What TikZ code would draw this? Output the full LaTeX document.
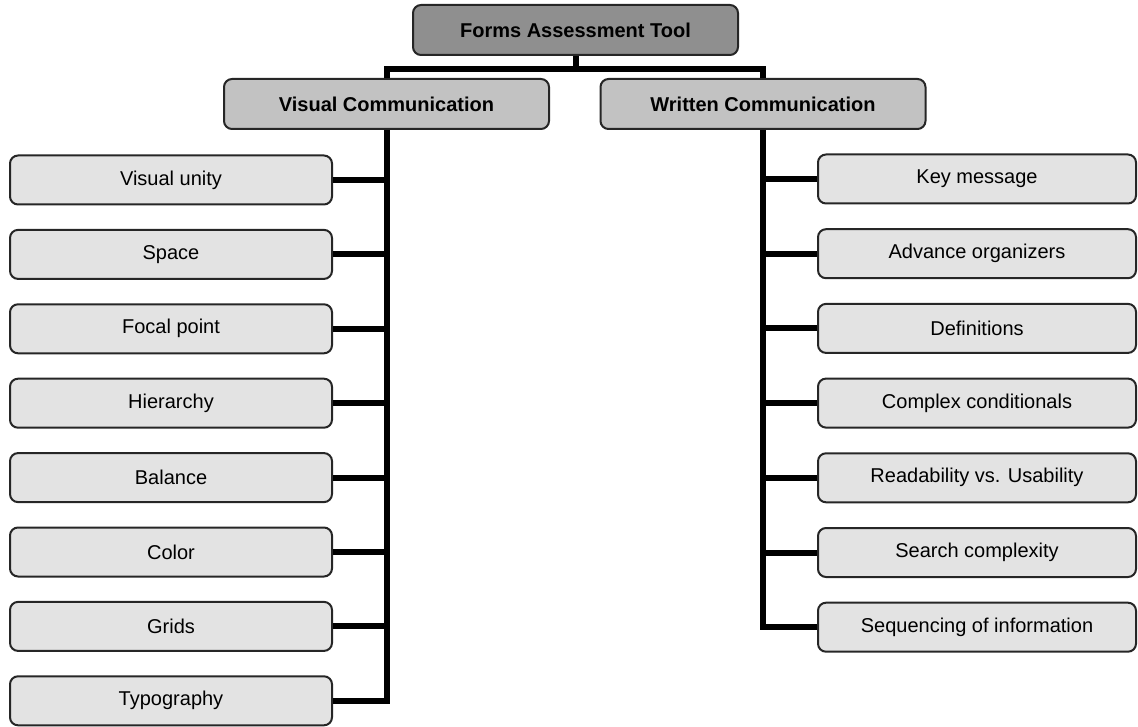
\documentclass[tikz,border=0pt]{standalone}
\usepackage{fontspec}
\setmainfont{Liberation Sans}
\definecolor{topfill}{gray}{0.56}
\definecolor{midfill}{gray}{0.76}
\definecolor{leaffill}{gray}{0.89}
\begin{document}
\begin{tikzpicture}[x=1pt,y=-1pt,font=\fontsize{20}{24}\selectfont,
    box/.style={draw=black!85,line width=2pt,rounded corners=8pt,inner sep=0pt},
    topbox/.style={box,fill=topfill,minimum width=325pt,minimum height=50pt,font=\fontsize{20}{24}\selectfont\bfseries},
    midbox/.style={box,fill=midfill,minimum width=325pt,minimum height=50pt,font=\fontsize{20}{24}\selectfont\bfseries},
    leaf/.style={box,fill=leaffill,minimum height=49pt},
    conn/.style={line width=6pt,line join=miter}]
    \useasboundingbox(0,0)rectangle(1138,727);
    \node[topbox](fat)at(575.5,30){Forms Assessment Tool};
    \node[midbox](vc)at(386.5,104){Visual Communication};
    \node[midbox](wc)at(763,104){Written Communication};
    \foreach \t[count=\i] in {Visual unity,Space,Focal point,Hierarchy,Balance,Color,Grids,Typography}
        \node[leaf,minimum width=322pt](vl\i)at(171,{180+(\i-1)*74.4}){\t};
    \foreach \t[count=\i] in {Key message,Advance organizers,Definitions,Complex conditionals,Readability vs. Usability,Search complexity,Sequencing of information}
        \node[leaf,minimum width=318pt](wl\i)at(977,{179+(\i-1)*74.7}){\t};
    \draw[conn](fat.south)--++(0,13)coordinate(j);
    \draw[conn](vc.north)|-(j)-|(wc.north);
    \draw[conn](vc.south)|-(vl8.east);
    \draw[conn](wc.south)|-(wl7.west);
    \foreach \i in {1,...,7}\draw[conn](vl\i.east)--(vl\i.east-|vc.south);
    \foreach \i in {1,...,6}\draw[conn](wl\i.west)--(wl\i.west-|wc.south);
\end{tikzpicture}
\end{document}
